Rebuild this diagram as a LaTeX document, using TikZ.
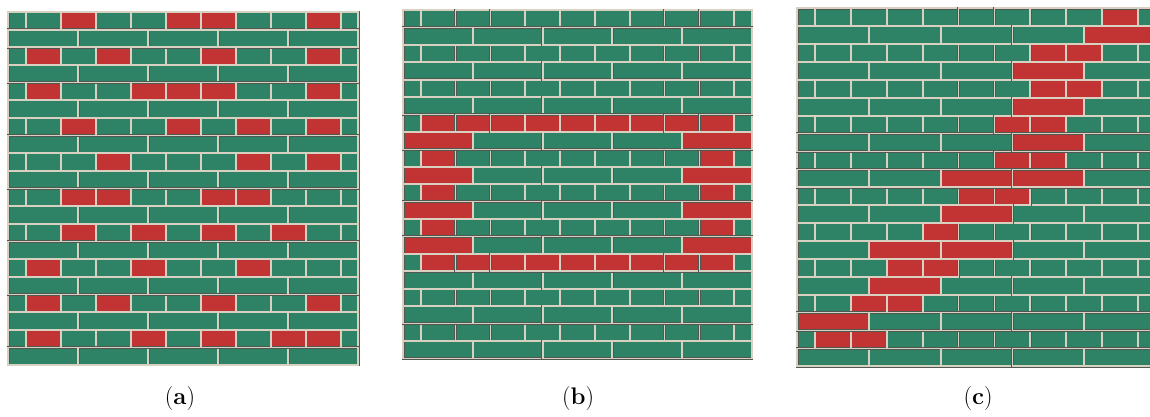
\documentclass[tikz,border=0pt]{standalone}
\usepackage{tikz}
\definecolor{bgreen}{RGB}{46,130,102}
\definecolor{bred}{RGB}{194,52,52}
\definecolor{mortar}{RGB}{216,209,194}
\definecolor{bline}{RGB}{80,88,82}
\tikzset{
  gbrick/.style={fill=bgreen, draw=bline, double=mortar, double distance=1.7pt, line width=0.35pt},
  rbrick/.style={fill=bred, draw=bline, double=mortar, double distance=1.7pt, line width=0.35pt},
  lbl/.style={font=\fontsize{24}{28}\selectfont, inner sep=0pt, anchor=center}
}
\newcommand\mybrS[3]{\path[#3] ({max(#2-0.5,0)},{#1-1}) rectangle ({min(#2+0.5,10)},{#1});}
\newcommand\mybrL[3]{\path[#3] ({2*#2-2},{#1-1}) rectangle ({2*#2},{#1});}
\newcommand\mybase{%
  \foreach \r in {1,3,...,19} {\foreach \k in {0,...,10} {\mybrS{\r}{\k}{gbrick}}}%
  \foreach \r in {2,4,...,20} {\foreach \b in {1,...,5} {\mybrL{\r}{\b}{gbrick}}}%
}
\begin{document}
\begin{tikzpicture}[x=1pt,y=-1pt]
\useasboundingbox[fill=white] (0,0) rectangle (1150,416);
% panel (a)
\begin{scope}[shift={(8.3,12)}, x=35.0pt, y=-17.65pt]
  \mybase
  \foreach \r/\k in {1/2,1/5,1/6,1/9,
    3/1,3/3,3/6,3/9,
    5/1,5/4,5/5,5/6,5/9,
    7/2,7/5,7/7,7/9,
    9/3,9/7,9/9,
    11/2,11/3,11/6,11/7,
    13/2,13/4,13/6,13/8,
    15/1,15/4,15/7,
    17/1,17/3,17/6,17/9,
    19/1,19/4,19/6,19/8,19/9} {\mybrS{\r}{\k}{rbrick}}
\end{scope}
% panel (b)
\begin{scope}[shift={(403.3,10)}, x=34.84pt, y=-17.42pt]
  \mybase
  \foreach \r in {7,15} {\foreach \k in {1,...,9} {\mybrS{\r}{\k}{rbrick}}}
  \foreach \r in {9,11,13} {\foreach \k in {1,9} {\mybrS{\r}{\k}{rbrick}}}
  \foreach \r in {8,10,12,14} {\foreach \b in {1,5} {\mybrL{\r}{\b}{rbrick}}}
\end{scope}
% panel (c)
\begin{scope}
  \clip (790,0) rectangle (1150,416);
  \begin{scope}[shift={(797.3,8.3)}, x=35.85pt, y=-17.9pt]
    \mybase
    \foreach \r/\k in {1/9,3/7,3/8,5/7,5/8,7/6,7/7,9/6,9/7,11/5,11/6,
      13/4,15/3,15/4,17/2,17/3,19/1,19/2} {\mybrS{\r}{\k}{rbrick}}
    \foreach \r/\b in {2/5,4/4,6/4,8/4,10/3,10/4,12/3,14/2,14/3,16/2,18/1}
      {\mybrL{\r}{\b}{rbrick}}
  \end{scope}
\end{scope}
% labels
\node[lbl] (la) at (180,399) {(\textbf{a})};
\node[lbl] (lb) at (578,399) {(\textbf{b})};
\node[lbl] (lc) at (978,399) {(\textbf{c})};
\end{tikzpicture}
\end{document}
